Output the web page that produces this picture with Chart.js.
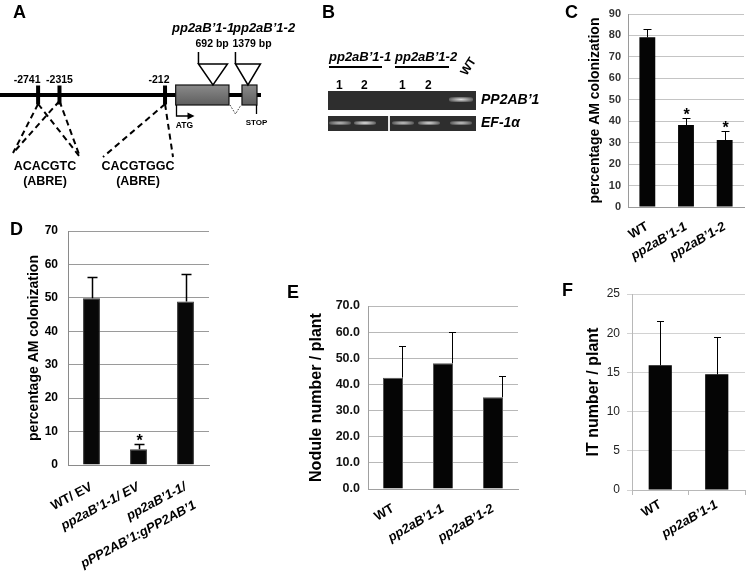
<!DOCTYPE html>
<html><head><meta charset="utf-8">
<script src="https://cdn.jsdelivr.net/npm/chart.js@4.4.1/dist/chart.umd.min.js"></script>
<style>
html,body{margin:0;padding:0;background:#fff}
#page{position:relative;width:747px;height:577px;overflow:hidden;background:#fff;font-family:'Liberation Sans',Arial,Helvetica,sans-serif}
canvas{position:absolute;left:0;top:0}
.letter{position:absolute;font-weight:bold;font-size:18px;line-height:18px;color:#000}
.t{position:absolute;white-space:nowrap;font-weight:bold;line-height:1;color:#000}
.gel{position:absolute;background:#2e2e2e}
.band{position:absolute;border-radius:2px}
.uline{position:absolute;height:2px;background:#000}
</style></head><body><div id="page">
<canvas id="cA" width="300" height="200"></canvas>
<canvas id="cC" width="747" height="577"></canvas>
<canvas id="cD" width="747" height="577"></canvas>
<canvas id="cE" width="747" height="577"></canvas>
<canvas id="cF" width="747" height="577"></canvas>
<div id="gelB"></div>
<div class="letter" style="left:13px;top:3px">A</div>
<div class="letter" style="left:322px;top:3px">B</div>
<div class="letter" style="left:565px;top:3px">C</div>
<div class="letter" style="left:10px;top:220px">D</div>
<div class="letter" style="left:287px;top:283px">E</div>
<div class="letter" style="left:562px;top:281px">F</div>
</div>
<script>
// ---------------- data ----------------
// Panel A: gene model (bp relative to ATG)
const promoterStart = -3500;
const geneEnd = 1700;
const abreSites = [-2741, -2315, -212];
const abreLabels = ["-2741", "-2315", "-212"];
const exons = [[0, 1062], [1321, 1620]];
const insertions = [743, 1440];
const insertionNames = ["pp2aB\u20191-1", "pp2aB\u20191-2"];
const insertionSizes = ["692 bp", "1379 bp"];
const abreMotifs = ["ACACGTC", "CACGTGGC"];

// Panel B: RT-PCR gel
const gelGroups = ["pp2aB\u20191-1", "pp2aB\u20191-2"];
const gelLaneNumbers = ["1", "2", "1", "2", ""];
const gelGenes = ["PP2AB\u20191", "EF-1\u03b1"];
const bandPP2AB = [0, 0, 0, 0, 0.9];
const bandEF1 = [0.75, 0.95, 0.8, 0.9, 0.8];

// Panel C
const cCategories = ["WT", "pp2aB\u20191-1", "pp2aB\u20191-2"];
const cValues = [79.1, 38.2, 31.2];
const cErrors = [3.8, 3.2, 4.4];
const cStars = [false, true, true];

// Panel D
const dCategories = ["WT/ EV", "pp2aB\u20191-1/ EV", ["pp2aB\u20191-1/", "pPP2AB\u20191:gPP2AB\u20191"]];
const dValues = [49.9, 4.7, 48.9];
const dErrors = [6.4, 1.7, 8.2];
const dStars = [false, true, false];

// Panel E
const eCategories = ["WT", "pp2aB\u20191-1", "pp2aB\u20191-2"];
const eValues = [42.6, 48.1, 35.1];
const eErrors = [12.0, 12.1, 8.2];
const eStars = [false, false, false];

// Panel F
const fCategories = ["WT", "pp2aB\u20191-1"];
const fValues = [15.9, 14.75];
const fErrors = [5.6, 4.75];
const fStars = [false, false];

// ---------------- setup ----------------
const FAM = "'Liberation Sans', Arial, Helvetica, sans-serif";
Chart.defaults.font.family = FAM;
Chart.defaults.color = '#000';
const PW = 747, PH = 577;

const errorBarPlugin = {
  id: 'errorBars',
  afterDatasetsDraw(chart, args, opts) {
    const ctx = chart.ctx, ys = chart.scales.y;
    chart.data.datasets.forEach((ds, di) => {
      const meta = chart.getDatasetMeta(di);
      meta.data.forEach((bar, i) => {
        const v = ds.data[i], e = ds.errors[i];
        const x = Math.round(bar.x + (opts.offset || 0)) + 0.5;
        const yTop = Math.round(ys.getPixelForValue(v + e)) + 0.5;
        const yBase = ys.getPixelForValue(v);
        ctx.save();
        ctx.strokeStyle = '#000';
        ctx.lineWidth = opts.width || 1;
        ctx.beginPath();
        ctx.moveTo(x, yBase); ctx.lineTo(x, yTop);
        ctx.moveTo(x - opts.cap / 2, yTop); ctx.lineTo(x + opts.cap / 2, yTop);
        ctx.stroke();
        if (ds.stars && ds.stars[i]) {
          ctx.fillStyle = '#000';
          ctx.font = 'bold 16px ' + FAM;
          ctx.textAlign = 'center';
          ctx.textBaseline = 'alphabetic';
          ctx.fillText('*', x, yTop + 1);
        }
        ctx.restore();
      });
    });
  }
};

function barChart(id, o) {
  const a = o.area;
  const xH = PH - a.bottom;
  return new Chart(document.getElementById(id), {
    type: 'bar',
    data: {
      labels: o.labels,
      datasets: [{
        data: o.values, errors: o.errors, stars: o.stars,
        backgroundColor: o.barColor || '#050505',
        borderColor: o.barBorder || '#050505',
        borderWidth: o.barBorderWidth || 0,
        barPercentage: o.barPct, categoryPercentage: 1
      }]
    },
    options: {
      responsive: false, animation: false, devicePixelRatio: 1,
      events: [],
      layout: { autoPadding: false, padding: { left: a.left - o.yWidth, top: a.top, right: PW - a.right, bottom: 0 } },
      plugins: {
        legend: { display: false }, tooltip: { enabled: false },
        errorBars: o.err
      },
      scales: {
        x: {
          afterFit: s => { s.height = xH; },
          grid: o.xGrid || { display: false },
          border: { display: true, color: o.axisColor, width: 1 },
          ticks: {
            autoSkip: false, minRotation: o.rot, maxRotation: o.rot, padding: o.xPad,
            color: '#000',
            font: c => ({ family: FAM, size: 13, weight: 'bold', lineHeight: o.xLineHeight || 1.2, style: c.index > 0 ? 'italic' : 'normal' })
          }
        },
        y: {
          min: 0, max: o.yMax,
          afterFit: s => { s.width = o.yWidth; },
          grid: { color: o.gridColor, lineWidth: 1, drawTicks: !!o.yTickLen, tickLength: o.yTickLen || 0 },
          border: { display: true, color: o.axisColor, width: 1 },
          ticks: {
            stepSize: o.yStep, padding: o.yPad, color: o.tickColor,
            font: o.tickFont,
            callback: o.fmt || (v => v)
          },
          title: {
            display: true, text: o.yTitle, color: '#000',
            font: { family: FAM, size: o.titleSize, weight: 'bold' },
            padding: { top: 0, bottom: 0 }
          }
        }
      }
    },
    plugins: [errorBarPlugin]
  });
}

// Panel C
barChart('cC', {
  labels: cCategories, values: cValues, errors: cErrors, stars: cStars,
  area: { left: 628, right: 744, top: 14, bottom: 207 },
  yMax: 90, yStep: 10, yWidth: 41.4, yPad: 7,
  yTitle: 'percentage AM colonization', titleSize: 14,
  tickFont: { family: FAM, size: 11, weight: 'bold' }, tickColor: '#333',
  gridColor: '#c4c4c4', axisColor: '#9a9a9a', barPct: 0.41,
  err: { width: 1, cap: 8, offset: 0 }, rot: 30, xPad: 4
});

// Panel D
barChart('cD', {
  labels: dCategories, values: dValues, errors: dErrors, stars: dStars,
  area: { left: 68, right: 209, top: 231, bottom: 465 },
  yMax: 70, yStep: 10, yWidth: 42.4, yPad: 10,
  yTitle: 'percentage AM colonization', titleSize: 14,
  tickFont: { family: FAM, size: 12, weight: 'bold' }, tickColor: '#000',
  gridColor: '#9a9a9a', axisColor: '#8a8a8a', barPct: 0.36,
  barColor: '#080808', barBorder: '#3a3a3a', barBorderWidth: 1,
  err: { width: 1.5, cap: 10, offset: 0 }, rot: 28, xPad: 4, xLineHeight: 1.6
});

// Panel E
barChart('cE', {
  labels: eCategories, values: eValues, errors: eErrors, stars: eStars,
  area: { left: 368, right: 518, top: 306, bottom: 489 },
  yMax: 70, yStep: 10, yWidth: 60.6, yPad: 8,
  yTitle: 'Nodule number / plant', titleSize: 16,
  tickFont: { family: "'Liberation Sans Narrow', " + FAM, size: 12.5, weight: 'bold' }, tickColor: '#111',
  fmt: v => Number(v).toFixed(1),
  gridColor: '#b8b8b8', axisColor: '#a0a0a0', barPct: 0.4,
  barColor: '#050505', barBorder: '#555', barBorderWidth: 1,
  err: { width: 1, cap: 7, offset: 8.5 }, rot: 30, xPad: 4
});

// Panel F
barChart('cF', {
  labels: fCategories, values: fValues, errors: fErrors, stars: fStars,
  area: { left: 632, right: 745, top: 294, bottom: 490 },
  yMax: 25, yStep: 5, yWidth: 48, yPad: 7, yTickLen: 5,
  yTitle: 'IT number / plant', titleSize: 16,
  tickFont: { family: FAM, size: 12 }, tickColor: '#222',
  gridColor: '#d2d2d2', axisColor: '#b8b8b8', barPct: 0.41,
  xGrid: { display: true, drawOnChartArea: false, offset: true, drawTicks: true, tickLength: 5, color: '#b8b8b8' },
  err: { width: 1, cap: 7, offset: 0 }, rot: 30, xPad: 2
});

// ---------------- Panel A: gene model on a linear bp scale ----------------
const geneDiagram = {
  id: 'geneDiagram',
  beforeDatasetsDraw(chart) {
    const { ctx, scales: { x, y } } = chart;
    const y0 = y.getPixelForValue(0);
    ctx.save();
    ctx.fillStyle = '#000';
    const xs = x.getPixelForValue(promoterStart), xe = x.getPixelForValue(geneEnd);
    ctx.fillRect(xs, y0 - 2, xe - xs, 4);
    ctx.strokeStyle = '#000'; ctx.lineWidth = 2; ctx.setLineDash([6, 4]);
    const p = abreSites.map(s => x.getPixelForValue(s));
    const segs = [
      [p[0], y0 + 9, 13, 153], [p[0], y0 + 9, 80, 157],
      [p[1], y0 + 6, 13, 153], [p[1], y0 + 6, 80, 157],
      [p[2], y0 + 9, 103, 157], [p[2], y0 + 9, 173, 157]
    ];
    segs.forEach(s => { ctx.beginPath(); ctx.moveTo(s[0], s[1]); ctx.lineTo(s[2], s[3]); ctx.stroke(); });
    ctx.restore();
  },
  afterDatasetsDraw(chart) {
    const { ctx, scales: { x, y } } = chart;
    const y0 = y.getPixelForValue(0);
    ctx.save();
    ctx.fillStyle = '#000'; ctx.textBaseline = 'middle';
    ctx.font = 'bold 10.5px ' + FAM; ctx.textAlign = 'center';
    const lblShift = [-11, 0, -6];
    abreSites.forEach((s, i) => ctx.fillText(abreLabels[i], x.getPixelForValue(s) + lblShift[i], y0 - 15));
    ctx.font = 'bold 12.5px ' + FAM;
    ctx.fillText(abreMotifs[0], 45, 167); ctx.fillText('(ABRE)', 45, 182);
    ctx.fillText(abreMotifs[1], 138, 167); ctx.fillText('(ABRE)', 138, 182);
    exons.forEach(ex => {
      const a = x.getPixelForValue(ex[0]), b = x.getPixelForValue(ex[1]);
      const g = ctx.createLinearGradient(0, y0 - 10, 0, y0 + 10);
      g.addColorStop(0, '#8a8a8a'); g.addColorStop(1, '#5e5e5e');
      ctx.fillStyle = g;
      ctx.fillRect(a, y0 - 10, b - a, 20);
      ctx.strokeStyle = '#111'; ctx.lineWidth = 1.2; ctx.setLineDash([]);
      ctx.strokeRect(a, y0 - 10, b - a, 20);
    });
    const i1 = x.getPixelForValue(exons[0][1]), i2 = x.getPixelForValue(exons[1][0]);
    ctx.setLineDash([1.5, 1.5]); ctx.lineWidth = 1; ctx.strokeStyle = '#333';
    ctx.beginPath(); ctx.moveTo(i1 + 1, y0 + 10); ctx.lineTo((i1 + i2) / 2, y0 + 19); ctx.lineTo(i2 - 1, y0 + 10); ctx.stroke();
    ctx.setLineDash([]);
    const xa = Math.round(x.getPixelForValue(0)) + 0.5;
    ctx.strokeStyle = '#000'; ctx.lineWidth = 1.3;
    ctx.beginPath(); ctx.moveTo(xa, y0 + 10); ctx.lineTo(xa, y0 + 21); ctx.lineTo(xa + 12, y0 + 21); ctx.stroke();
    ctx.fillStyle = '#000';
    ctx.beginPath(); ctx.moveTo(xa + 18, y0 + 21); ctx.lineTo(xa + 11, y0 + 17.5); ctx.lineTo(xa + 11, y0 + 24.5); ctx.closePath(); ctx.fill();
    ctx.font = 'bold 8.5px ' + FAM; ctx.textAlign = 'center';
    ctx.fillText('ATG', xa + 8, y0 + 31);
    const xsTop = Math.round(x.getPixelForValue(exons[1][1])) - 0.5;
    ctx.beginPath(); ctx.moveTo(xsTop, y0 + 10); ctx.lineTo(xsTop, y0 + 19); ctx.stroke();
    ctx.font = 'bold 8px ' + FAM;
    ctx.fillText('STOP', xsTop, y0 + 28);
    const halfW = [14.5, 12.5];
    const nameLeft = [172, 233];
    insertions.forEach((ins, i) => {
      const ax = x.getPixelForValue(ins);
      const l = ax - halfW[i], r = ax + halfW[i];
      ctx.fillStyle = '#fff'; ctx.strokeStyle = '#000'; ctx.lineWidth = 1.5;
      ctx.beginPath(); ctx.moveTo(l, y0 - 31); ctx.lineTo(r, y0 - 31); ctx.lineTo(ax, y0 - 10); ctx.closePath(); ctx.fill(); ctx.stroke();
      ctx.beginPath(); ctx.moveTo(l, y0 - 31); ctx.lineTo(l, y0 - 43); ctx.stroke();
      ctx.fillStyle = '#000'; ctx.textAlign = 'left';
      ctx.font = 'bold 10.5px ' + FAM;
      ctx.fillText(insertionSizes[i], l - 3, y0 - 51);
      ctx.font = 'italic bold 13px ' + FAM;
      ctx.fillText(insertionNames[i], nameLeft[i], y0 - 67);
    });
    ctx.restore();
  }
};

new Chart(document.getElementById('cA'), {
  type: 'scatter',
  data: { datasets: [{
    data: abreSites.map(s => ({ x: s, y: 0 })),
    pointStyle: 'line', rotation: 90, radius: 9.5, borderWidth: 4,
    borderColor: '#000', backgroundColor: '#000'
  }] },
  options: {
    responsive: false, animation: false, devicePixelRatio: 1, events: [],
    layout: { autoPadding: false, padding: { left: 0, right: 39, top: 0, bottom: 10 } },
    plugins: { legend: { display: false }, tooltip: { enabled: false } },
    scales: {
      x: { type: 'linear', display: false, min: promoterStart, max: geneEnd },
      y: { type: 'linear', display: false, min: -1, max: 1 }
    }
  },
  plugins: [geneDiagram]
});

// ---------------- Panel B: gel (HTML) ----------------
(function () {
  const root = document.getElementById('gelB');
  const add = (cls, css, txt) => {
    const d = document.createElement('div');
    d.className = cls; d.style.cssText = css;
    if (txt !== undefined) d.textContent = txt;
    root.appendChild(d); return d;
  };
  const laneX = [340, 365, 403, 429, 461];
  const groupLeft = [329, 395], groupLine = [53, 54];
  gelGroups.forEach((g, i) => {
    add('t', `left:${groupLeft[i]}px;top:50px;font-size:13px;font-style:italic`, g);
    add('uline', `left:${groupLeft[i]}px;top:66px;width:${groupLine[i]}px`);
  });
  add('t', 'left:458px;top:71px;font-size:12px;transform:rotate(-58deg);transform-origin:left top', 'WT');
  gelLaneNumbers.forEach((n, i) => {
    if (n) add('t', `left:${laneX[i] - 4}px;top:79px;font-size:12px`, n);
  });
  add('gel', 'left:328px;top:91px;width:148px;height:19px');
  add('gel', 'left:328px;top:116px;width:148px;height:15px');
  add('', 'position:absolute;left:388px;top:116px;width:2px;height:15px;background:#e8e8e8');
  const bandCss = (a) => `background:radial-gradient(ellipse at center, rgba(240,240,240,${a}) 0%, rgba(200,200,200,${a * 0.7}) 45%, rgba(90,90,90,0) 100%)`;
  bandPP2AB.forEach((v, i) => {
    if (v > 0) add('band', `left:${laneX[i] - 12}px;top:97px;width:24px;height:5px;${bandCss(v)}`);
  });
  bandEF1.forEach((v, i) => {
    if (v > 0) add('band', `left:${laneX[i] - 11}px;top:121px;width:22px;height:4px;${bandCss(v)}`);
  });
  add('t', 'left:481px;top:92px;font-size:14px;font-style:italic', gelGenes[0]);
  add('t', 'left:481px;top:115px;font-size:14px;font-style:italic', gelGenes[1]);
})();
</script>
</body></html>
